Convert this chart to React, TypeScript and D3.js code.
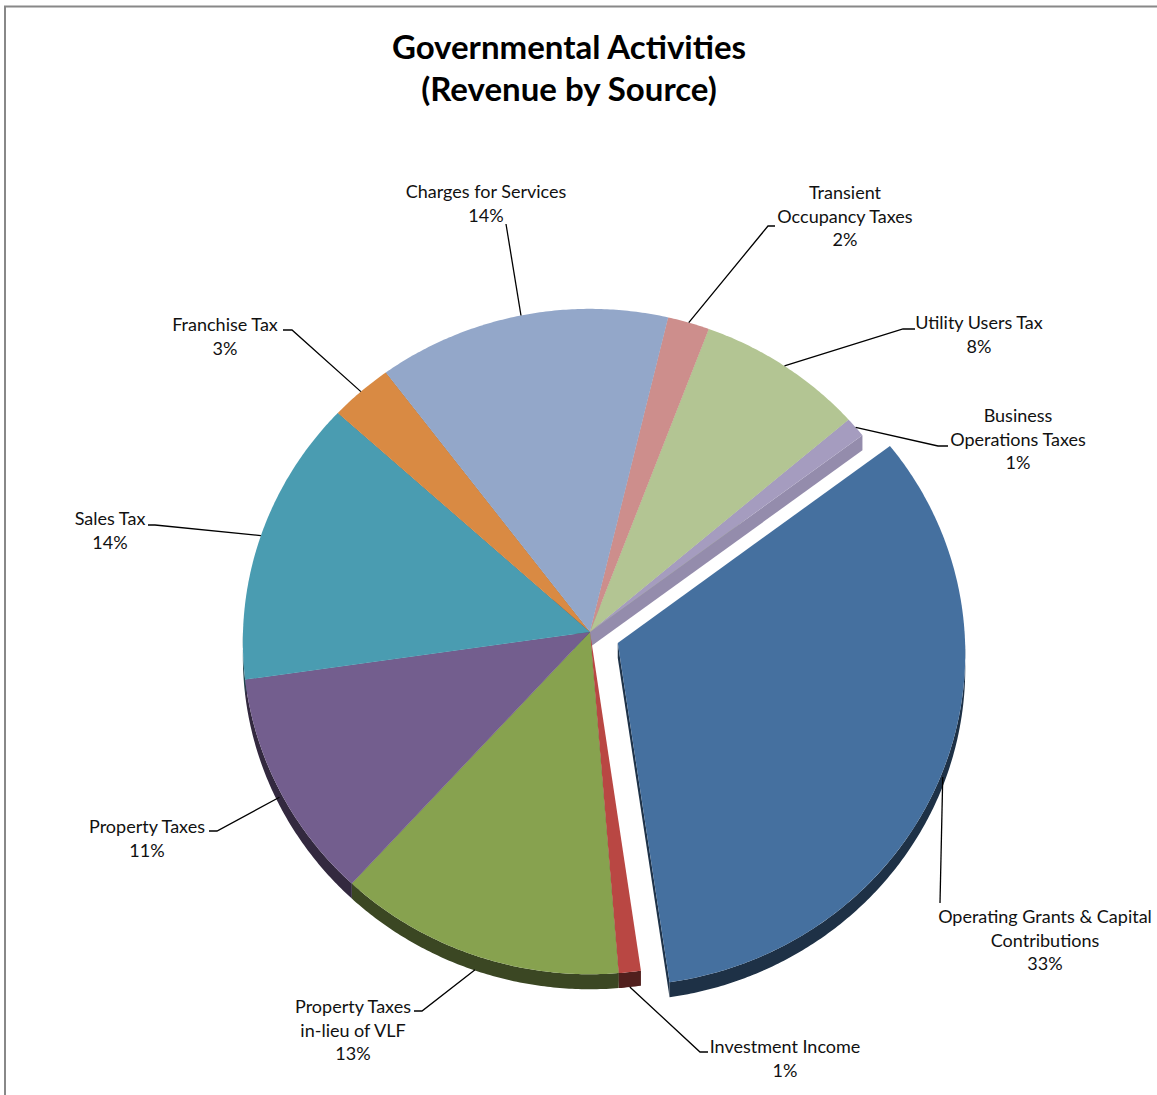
import React from "react";
import * as d3 from "d3";

// ---- data ----
const categories = [
  "Operating Grants & Capital Contributions",
  "Investment Income",
  "Property Taxes in-lieu of VLF",
  "Property Taxes",
  "Sales Tax",
  "Franchise Tax",
  "Charges for Services",
  "Transient Occupancy Taxes",
  "Utility Users Tax",
  "Business Operations Taxes",
];
const shares = [33, 1, 13, 11, 14, 3, 14, 2, 8, 1];
const labelLines = [
  ["Operating Grants & Capital", "Contributions"],
  ["Investment Income"],
  ["Property Taxes", "in-lieu of VLF"],
  ["Property Taxes"],
  ["Sales Tax"],
  ["Franchise Tax"],
  ["Charges for Services"],
  ["Transient", "Occupancy Taxes"],
  ["Utility Users Tax"],
  ["Business", "Operations Taxes"],
];
const colors = [
  "#45709F", "#B94743", "#87A24F", "#735E8E", "#4A9CB1",
  "#D98A43", "#93A7C9", "#CD8E8C", "#B3C593", "#A59CBF",
];
const explodedIndex = 0;
const titleLines = ["Governmental Activities", "(Revenue by Source)"];

// ---- layout ----
const W = 1157, H = 1095;
const CX = 590, CY = 632, R = 347, KY = 0.958, PERSP = 0.0287, DEPTH = 15, EXPLODE = 30;
const START_DEG = 53;
const labelPos: [number, number][] = [
  [1045, 917], [785, 1047], [353, 1007], [147, 827], [110, 519],
  [225, 325], [486, 192], [845, 193], [979, 323], [1018, 416],
];
const leaderStart: [number, number][][] = [
  [[940, 903]],
  [[708, 1052], [700, 1052]],
  [[414, 1011], [422, 1011]],
  [[209, 831], [217, 831]],
  [[148, 525], [155, 525]],
  [[283, 330], [292, 330]],
  [[506, 224]],
  [[775, 226], [768, 226]],
  [[915, 329], [903, 329]],
  [[948, 446], [938, 446]],
];
const FONT = "Lato, 'Open Sans', sans-serif";
const LINE_H = 23.5;

export default function App() {
  const pie = d3
    .pie<number>()
    .sort(null)
    .startAngle((START_DEG * Math.PI) / 180)
    .endAngle(((START_DEG + 360) * Math.PI) / 180);
  const arcs = pie(shares);
  const total = d3.sum(shares);

  const proj = (ux: number, uy: number): [number, number] => {
    const s = 1 / (1 - PERSP * uy);
    return [CX + R * ux * s, CY + R * KY * uy * s];
  };
  const e = EXPLODE / R;
  const offsetOf = (i: number): [number, number] => {
    if (i !== explodedIndex) return [0, 0];
    const m = (arcs[i].startAngle + arcs[i].endAngle) / 2;
    return [e * Math.sin(m), -e * Math.cos(m)];
  };
  const rim = (i: number, a: number, rr = 1): [number, number] => {
    const [ox, oy] = offsetOf(i);
    return proj(ox + rr * Math.sin(a), oy - rr * Math.cos(a));
  };
  const line = d3.line<[number, number]>();
  const sample = (a0: number, a1: number) => {
    const n = Math.max(2, Math.ceil(((a1 - a0) * 180) / Math.PI * 2));
    return d3.range(n + 1).map((k) => a0 + ((a1 - a0) * k) / n);
  };
  const down = (p: [number, number]): [number, number] => [p[0], p[1] + DEPTH];

  const topPath = (i: number) => {
    const a = arcs[i];
    const pts: [number, number][] = [rim(i, 0, 0), ...sample(a.startAngle, a.endAngle).map((t) => rim(i, t))];
    return line(pts) + "Z";
  };
  const outerWall = (i: number) => {
    const a = arcs[i];
    const lo = Math.max(a.startAngle, Math.PI / 2);
    const hi = Math.min(a.endAngle, (3 * Math.PI) / 2);
    if (hi <= lo) return null;
    const pts = sample(lo, hi).map((t) => rim(i, t));
    return line([...pts, ...pts.slice().reverse().map(down)]) + "Z";
  };
  const radialWalls = (i: number) => {
    const a = arcs[i];
    const res: { d: string; lit: boolean }[] = [];
    const c = rim(i, 0, 0);
    const mk = (ang: number, nAng: number) => {
      const ny = -Math.cos(nAng);
      if (ny <= 0) return;
      const p = rim(i, ang);
      res.push({ d: line([c, p, down(p), down(c)]) + "Z", lit: Math.sin(nAng) > 0 });
    };
    mk(a.startAngle, a.startAngle - Math.PI / 2);
    mk(a.endAngle, a.endAngle + Math.PI / 2);
    return res;
  };

  const sliceGroup = (idx: number[]) => (
    <>
      {idx.map((i) =>
        radialWalls(i).map((w, k) => (
          <path key={`rw${i}-${k}`} d={w.d} fill={d3.color(colors[i])!.darker(w.lit ? 0.3 : 2.2).formatHex()} />
        ))
      )}
      {idx.map((i) => {
        const d = outerWall(i);
        return d ? <path key={`ow${i}`} d={d} fill={d3.color(colors[i])!.darker(2.3).formatHex()} /> : null;
      })}
      {idx.map((i) => (
        <path key={`top${i}`} d={topPath(i)} fill={colors[i]} />
      ))}
    </>
  );

  const normal = arcs.map((_, i) => i).filter((i) => i !== explodedIndex);

  const leaders = arcs.map((a, i) => {
    const m = (a.startAngle + a.endAngle) / 2;
    const p = rim(i, m);
    const extra = DEPTH * Math.max(0, -Math.cos(m));
    const end: [number, number] = [p[0], p[1] + extra];
    return line([...leaderStart[i], end]);
  });

  return (
    <svg width={W} height={H} style={{ position: "absolute", left: 0, top: 0, background: "#fff" }}>
      <rect x={5} y={6.5} width={W + 20} height={H + 20} fill="#fff" stroke="#888" strokeWidth={2} />
      <g fontFamily={FONT} fontWeight="bold" fontSize={33} textAnchor="middle" fill="#000">
        {titleLines.map((t, k) => (
          <text key={t} x={569} y={47 + k * 42} dy="0.35em">{t}</text>
        ))}
      </g>
      {sliceGroup(normal)}
      {sliceGroup([explodedIndex])}
      <g fill="none" stroke="#000" strokeWidth={1.3}>
        {leaders.map((d, i) => (
          <path key={`ld${i}`} d={d!} />
        ))}
      </g>
      <g fontFamily={FONT} fontSize={18} textAnchor="middle" fill="#111">
        {arcs.map((a, i) => {
          const lines = [...labelLines[i], `${Math.round((shares[i] / total) * 100)}%`];
          return (
            <text key={categories[i]} x={labelPos[i][0]} y={labelPos[i][1]}>
              {lines.map((l, k) => (
                <tspan key={k} x={labelPos[i][0]} y={labelPos[i][1] + k * LINE_H} dy="0.35em">{l}</tspan>
              ))}
            </text>
          );
        })}
      </g>
    </svg>
  );
}
